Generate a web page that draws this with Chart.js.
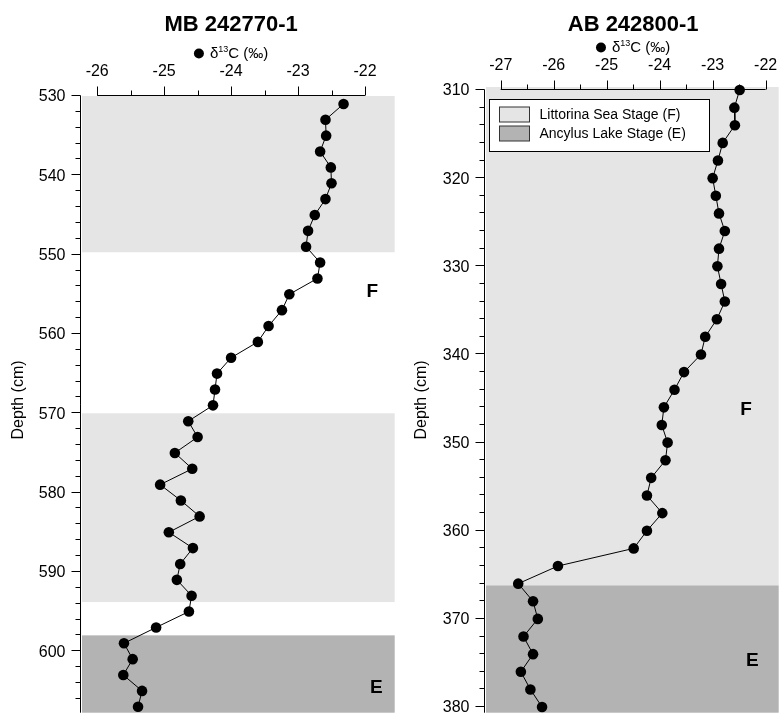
<!DOCTYPE html>
<html>
<head>
<meta charset="utf-8">
<script src="https://cdn.jsdelivr.net/npm/chart.js@4.4.0/dist/chart.umd.min.js"></script>
<style>
  html, body { margin: 0; padding: 0; background: #fff; }
  #wrap { position: relative; width: 784px; height: 718px; overflow: hidden; }
  canvas { position: absolute; top: 0; }
</style>
</head>
<body>
<div id="wrap">
  <canvas id="mbChart" width="400" height="718" style="left:0"></canvas>
  <canvas id="abChart" width="384" height="718" style="left:400px"></canvas>
</div>
<script>
// δ13C depth profiles, two cores

const FONT = "'Liberation Sans', Arial, sans-serif";
const LIGHT = '#e5e5e5';
const DARK = '#b3b3b3';

// core MB 242770-1
const mbDepth = [531, 533, 535, 537, 539, 541, 543, 545, 547, 549, 551, 553, 555, 557,
  559, 561, 563, 565, 567, 569, 571, 573, 575, 577, 579,
  581, 583, 585, 587, 589, 591, 593, 595, 597, 599, 601, 603, 605, 607];
const mbD13C = [-22.32, -22.59, -22.58, -22.67, -22.51, -22.50, -22.59, -22.75, -22.85, -22.88, -22.67, -22.71, -23.13, -23.24,
  -23.44, -23.60, -24.00, -24.21, -24.24, -24.27, -24.64, -24.50, -24.84, -24.58, -25.06,
  -24.75, -24.47, -24.93, -24.57, -24.76, -24.81, -24.59, -24.63, -25.12, -25.60, -25.47, -25.61, -25.33, -25.39];
const mbXTicks = [-26, -25, -24, -23, -22];
const mbYTicks = [530, 540, 550, 560, 570, 580, 590, 600];
const mbBands = [[530, 549.7, LIGHT], [570, 593.8, LIGHT], [598, 607.75, DARK]];
const mbStages = [['F', -21.89, 554.7], ['E', -21.83, 604.6]];

// core AB 242800-1
const abDepth = [310, 312, 314, 316, 318, 320, 322, 324, 326, 328, 330, 332, 334,
  336, 338, 340, 342, 344, 346, 348, 350, 352, 354, 356,
  358, 360, 362, 364, 366, 368, 370, 372, 374, 376, 378, 380];
const abD13C = [-22.49, -22.59, -22.58, -22.81, -22.90, -23.00, -22.94, -22.88, -22.77, -22.88, -22.91, -22.84, -22.77,
  -22.92, -23.14, -23.22, -23.54, -23.72, -23.92, -23.96, -23.85, -23.89, -24.16, -24.24,
  -23.95, -24.24, -24.49, -25.92, -26.67, -26.39, -26.30, -26.57, -26.39, -26.62, -26.44, -26.22];
const abXTicks = [-27, -26, -25, -24, -23, -22];
const abYTicks = [310, 320, 330, 340, 350, 360, 370, 380];
const abBands = [[309.66, 366.2, LIGHT], [366.2, 380.64, DARK]];
const abStages = [['F', -22.37, 346.3], ['E', -22.25, 374.7]];

const stageLegend = [['Littorina Sea Stage (F)', LIGHT], ['Ancylus Lake Stage (E)', DARK]];

function drawD13CLabel(ctx, cx, cy) {
  // "● δ13C (‰)" centred on cx
  ctx.font = `15px ${FONT}`;
  const wD = ctx.measureText('δ').width;
  const wC = ctx.measureText('C (‰)').width;
  ctx.font = `9px ${FONT}`;
  const wS = ctx.measureText('13').width;
  const total = 10 + 6 + wD + wS + wC;
  let xx = cx - total / 2;
  ctx.fillStyle = '#000';
  ctx.beginPath();
  ctx.arc(xx + 5, cy, 5, 0, Math.PI * 2);
  ctx.fill();
  xx += 16;
  ctx.textAlign = 'left';
  ctx.textBaseline = 'middle';
  ctx.font = `15px ${FONT}`;
  ctx.fillText('δ', xx, cy);
  xx += wD;
  ctx.font = `9px ${FONT}`;
  ctx.fillText('13', xx, cy - 4);
  xx += wS;
  ctx.font = `15px ${FONT}`;
  ctx.fillText('C (‰)', xx, cy);
}

const panelDecor = {
  id: 'panelDecor',
  beforeDatasetsDraw(chart, args, o) {
    const { ctx, chartArea: a, scales: { y } } = chart;
    ctx.save();
    o.bands.forEach(([from, to, color]) => {
      const y0 = y.getPixelForValue(from);
      const y1 = y.getPixelForValue(to);
      ctx.fillStyle = color;
      ctx.fillRect(a.left, y0, a.right - a.left, y1 - y0);
    });
    ctx.restore();
  },
  afterDraw(chart, args, o) {
    const { ctx, chartArea: a, scales: { x, y } } = chart;
    ctx.save();
    ctx.strokeStyle = '#000';
    ctx.fillStyle = '#000';
    ctx.lineWidth = 1;

    const yTop = o.yTicks[0];
    const axisY = Math.round(y.getPixelForValue(yTop)) - 0.5;
    const axisX = a.left - 1.5;

    // left depth axis
    ctx.beginPath();
    ctx.moveTo(axisX, axisY);
    ctx.lineTo(axisX, a.bottom);
    for (let v = yTop; v <= y.max; v += 2) {
      const py = Math.round(y.getPixelForValue(v)) - 0.5;
      const len = (v - yTop) % 10 === 0 ? 9 : 5;
      ctx.moveTo(axisX, py);
      ctx.lineTo(axisX - len, py);
    }
    ctx.stroke();
    ctx.font = `16px ${FONT}`;
    ctx.textAlign = 'right';
    ctx.textBaseline = 'middle';
    o.yTicks.forEach((v) => {
      ctx.fillText(String(v), axisX - 15, y.getPixelForValue(v) + 1);
    });

    // top δ13C axis
    const xLo = o.xTicks[0];
    const xHi = o.xTicks[o.xTicks.length - 1];
    ctx.beginPath();
    ctx.moveTo(x.getPixelForValue(xLo), axisY);
    ctx.lineTo(x.getPixelForValue(xHi), axisY);
    for (let v = xLo; v <= xHi + 0.01; v += 0.5) {
      const px = Math.round(x.getPixelForValue(v)) + 0.5;
      const len = Number.isInteger(v) ? 9 : 5;
      ctx.moveTo(px, axisY);
      ctx.lineTo(px, axisY - len);
    }
    ctx.stroke();
    ctx.textAlign = 'center';
    o.xTicks.forEach((v) => {
      ctx.fillText(String(v), x.getPixelForValue(v), axisY - 24);
    });

    const midX = (x.getPixelForValue(xLo) + x.getPixelForValue(xHi)) / 2;
    drawD13CLabel(ctx, midX, axisY - 42);

    // title
    ctx.textAlign = 'center';
    ctx.textBaseline = 'middle';
    ctx.font = `bold 22px ${FONT}`;
    ctx.fillText(o.title, midX, 25);

    // depth label
    ctx.save();
    ctx.translate(o.depthLabelX, 400);
    ctx.rotate(-Math.PI / 2);
    ctx.font = `16px ${FONT}`;
    ctx.fillText('Depth (cm)', 0, 0);
    ctx.restore();

    // stage letters
    ctx.font = `bold 19px ${FONT}`;
    o.stages.forEach(([txt, sx, sy]) => {
      ctx.fillText(txt, x.getPixelForValue(sx), y.getPixelForValue(sy));
    });

    // stage legend box
    if (o.showLegend) {
      const bx = a.left + 3.5, by = 99.5, bw = 220, bh = 52;
      ctx.fillStyle = '#fff';
      ctx.fillRect(bx, by, bw, bh);
      ctx.strokeRect(bx, by, bw, bh);
      ctx.font = `14px ${FONT}`;
      ctx.textAlign = 'left';
      stageLegend.forEach(([label, color], i) => {
        const sy = by + 7.5 + i * 19;
        ctx.fillStyle = color;
        ctx.fillRect(bx + 10, sy, 30, 15);
        ctx.strokeStyle = '#333';
        ctx.strokeRect(bx + 10, sy, 30, 15);
        ctx.fillStyle = '#000';
        ctx.fillText(label, bx + 50, sy + 8);
      });
    }
    ctx.restore();
  },
};

function makePanel(canvasId, p) {
  return new Chart(document.getElementById(canvasId), {
    type: 'scatter',
    data: {
      datasets: [{
        data: p.depth.map((d, i) => ({ x: p.values[i], y: d })),
        showLine: true,
        borderColor: '#000',
        borderWidth: 1,
        pointRadius: 5.3,
        pointBackgroundColor: '#000',
        pointBorderWidth: 0,
        pointHoverRadius: 5.3,
        clip: false,
      }],
    },
    options: {
      responsive: false,
      animation: false,
      devicePixelRatio: 1,
      events: [],
      layout: { padding: p.pad },
      plugins: {
        legend: { display: false },
        tooltip: { enabled: false },
        panelDecor: {
          title: p.title,
          bands: p.bands,
          xTicks: p.xTicks,
          yTicks: p.yTicks,
          stages: p.stages,
          depthLabelX: p.depthLabelX,
          showLegend: p.showLegend,
        },
      },
      scales: {
        x: { type: 'linear', display: false, min: p.xMin, max: p.xMax },
        y: { type: 'linear', display: false, reverse: true, min: p.yMin, max: p.yMax },
      },
    },
    plugins: [panelDecor],
  });
}

makePanel('mbChart', {
  title: 'MB 242770-1',
  depth: mbDepth, values: mbD13C,
  xTicks: mbXTicks, yTicks: mbYTicks,
  bands: mbBands, stages: mbStages,
  xMin: -26.227, xMax: -21.556, yMin: 530, yMax: 607.75,
  pad: { left: 82, right: 3, top: 96, bottom: 0 },
  depthLabelX: 19,
  showLegend: false,
});

makePanel('abChart', {
  title: 'AB 242800-1',
  depth: abDepth, values: abD13C,
  xTicks: abXTicks, yTicks: abYTicks,
  bands: abBands, stages: abStages,
  xMin: -27.278, xMax: -21.753, yMin: 309.66, yMax: 380.64,
  pad: { left: 86, right: 0, top: 87, bottom: 0 },
  depthLabelX: 22,
  showLegend: true,
});
</script>
</body>
</html>
